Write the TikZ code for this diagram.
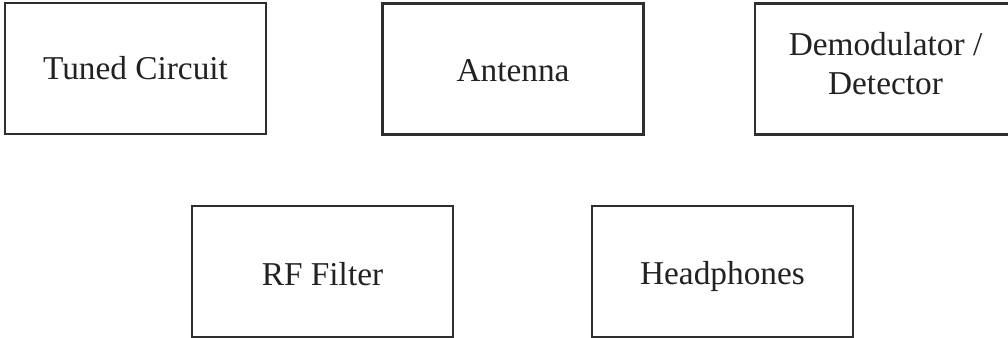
\documentclass[tikz,border=0pt]{standalone}
\usepackage{fontspec}
\setmainfont{Liberation Serif}
\definecolor{edge}{HTML}{2E2E2E}
\definecolor{ink}{HTML}{222222}
\tikzset{
  blockbox/.style={draw=edge, line width=1.6pt, minimum width=195.75pt, minimum height=98.25pt,
    inner sep=0pt, outer sep=0pt, text=ink, text depth=0pt,
    font=\fontsize{25}{29.5}\selectfont},
}
\begin{document}
\begin{tikzpicture}[x=0.75pt,y=-0.75pt]
\useasboundingbox (0,0) rectangle (1008,338);
\clip (0,0) rectangle (1008,338);
\fill[white] (0,0) rectangle (1008,338);
\node[blockbox, text height=17.25pt] (tuned) at (135.5,68.5) {Tuned Circuit};
\node[blockbox, text height=19.5pt] (antenna) at (513,69) {Antenna};
\node[blockbox, text height=39pt] (demod) at (885.5,69) {\begin{tabular}[b]{@{}c@{}}Demodulator /\\Detector\end{tabular}};
\node[blockbox, text height=21.75pt] (rffilter) at (322.5,271.5) {RF Filter};
\node[blockbox, text height=20.25pt] (phones) at (722.5,271.5) {Headphones};
\end{tikzpicture}
\end{document}
